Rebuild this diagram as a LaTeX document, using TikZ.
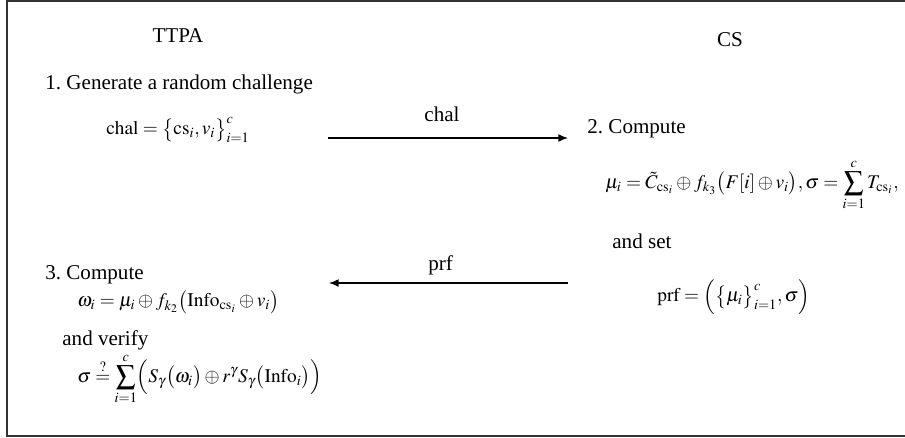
\documentclass[tikz,border=0pt]{standalone}
\usepackage{amsmath}
\usepackage{mathptmx}
\usepackage{fontspec}
\setmainfont{Liberation Serif}
\usepackage{tikz}
\usetikzlibrary{positioning}
\usetikzlibrary{arrows.meta}
\frenchspacing

\begin{document}
\begin{tikzpicture}[x=0.02cm,y=-0.02cm]

          \tikzstyle{partyNode} = [inner sep=0pt, font=\fontsize{12}{14}\selectfont];
          \tikzstyle{stepNode} = [inner sep=0pt, anchor=west, font=\fontsize{12}{14}\selectfont];
          \tikzstyle{eqNode} = [inner sep=0pt, anchor=west, font=\fontsize{11}{13}\selectfont];
          \tikzstyle{msgEdge} = [thick, -{Latex[length=5.5pt,width=4.5pt]}];
          \tikzstyle{frameEdge} = [line width=1pt, black!80];

          \useasboundingbox (0,0) rectangle (905,438);
          \draw[frameEdge] (905,1) -- (7,1) -- (7,436) -- (905,436);

          \node[partyNode] (ttpa) at (178,36) {TTPA};
          \node[partyNode] (cs) at (730,40) {CS};

          \node[stepNode] (step1) at (45,84) {1. Generate a random challenge};
          \node[eqNode] (chalEq) at (106,130) {$\mathrm{chal}=\bigl\{\mathrm{cs}_i, v_i\bigr\}_{i=1}^{c}$};

          \node[stepNode] (step2) at (587,129) {2. Compute};
          \node[eqNode] (muEq) at (605,185)
            {$\displaystyle \mu_i=\tilde{C}_{\mathrm{cs}_i}\oplus f_{k_3}\bigl(F[i]\oplus v_i\bigr),\sigma=\sum_{i=1}^{c}T_{\mathrm{cs}_i},$};
          \node[stepNode] (andSet) at (612,241) {and set};
          \node[eqNode] (prfEq) at (657,297) {$\mathrm{prf}=\Bigl(\bigl\{\mu_i\bigr\}_{i=1}^{c},\sigma\Bigr)$};

          \node[stepNode] (step3) at (45,275) {3. Compute};
          \node[eqNode] (omegaEq) at (77,302)
            {$\omega_i=\mu_i\oplus f_{k_2}\bigl(\mathrm{Info}_{\mathrm{cs}_i}\oplus v_i\bigr)$};
          \node[stepNode] (verify) at (62,340) {and verify};
          \node[eqNode] (sigmaEq) at (77,379)
            {$\displaystyle \sigma\overset{?}{=}\sum_{i=1}^{c}\Bigl(S_\gamma\bigl(\omega_i\bigr)\oplus r^\gamma S_\gamma\bigl(\mathrm{Info}_i\bigr)\Bigr)$};

          \coordinate (chalFrom) at (328,138);
          \coordinate (chalTo) at (568,138);
          \coordinate (prfFrom) at (568,283);
          \coordinate (prfTo) at (329,283);

          \draw[msgEdge] (chalFrom) -- node[partyNode, anchor=base, yshift=9.6pt, xshift=-3.4pt] (chalLabel) {chal} (chalTo);
          \draw[msgEdge] (prfFrom) -- node[partyNode, anchor=base, yshift=7.3pt, xshift=-4.5pt] (prfLabel) {prf} (prfTo);
        \end{tikzpicture}
\end{document}
